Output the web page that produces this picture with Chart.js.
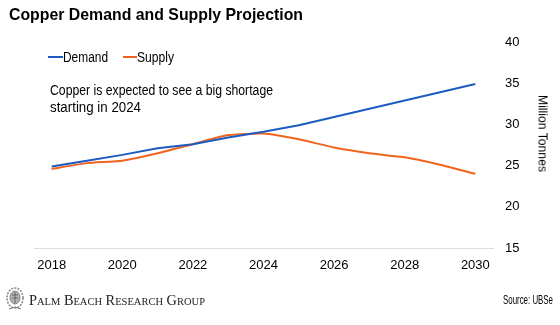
<!DOCTYPE html>
<html>
<head>
<meta charset="utf-8">
<script src="https://cdn.jsdelivr.net/npm/chart.js@4/dist/chart.umd.min.js"></script>
<style>
  html, body { margin: 0; padding: 0; background: #fff; }
  #wrap { position: relative; width: 560px; height: 325px; overflow: hidden; font-family: "Liberation Sans", Arial, sans-serif; color: #000; }
  #wrap canvas { position: absolute; left: 0; top: 0; }
  .txt { position: absolute; white-space: nowrap; line-height: 1; transform-origin: 0 0; }
  .key { position: absolute; height: 2px; }
</style>
</head>
<body>
<div id="wrap">
  <canvas id="copperChart" width="560" height="325"></canvas>

  <div class="txt fit" data-w="294" style="left:9px; top:5.7px; font-size:17px; font-weight:bold;">Copper Demand and Supply Projection</div>

  <!-- legend -->
  <div class="key" style="left:48px; top:55.7px; width:15px; background:#1c5bbf;"></div>
  <div class="txt fit" data-w="45" style="left:63px; top:49.9px; font-size:14px;">Demand</div>
  <div class="key" style="left:123px; top:55.7px; width:14px; background:#f0641e;"></div>
  <div class="txt fit" data-w="37" style="left:137px; top:49.9px; font-size:14px;">Supply</div>

  <!-- note -->
  <div class="txt fit" data-w="223" style="left:50px; top:83.2px; font-size:14px;">Copper is expected to see a big shortage</div>
  <div class="txt fit" data-w="91" style="left:50px; top:99.9px; font-size:14px;">starting in 2024</div>

  <!-- right axis title -->
  <div id="yTitle" class="txt" style="font-size:13px;">Million Tonnes</div>

  <!-- footer -->
  <svg style="position:absolute; left:5px; top:286px;" width="20" height="26" viewBox="0 0 20 26">
    <ellipse cx="10" cy="12" rx="8" ry="10" fill="none" stroke="#8a8a8a" stroke-width="1.6" stroke-dasharray="2 1.2"/>
    <ellipse cx="10" cy="11.5" rx="5" ry="6.5" fill="#b5b5b5" stroke="#6f6f6f" stroke-width="0.8"/>
    <path d="M7 9 h6 M7 12 h6 M10 6 v11" stroke="#555" stroke-width="0.8"/>
    <path d="M4 23 L10 21 L16 23" fill="none" stroke="#777" stroke-width="1"/>
  </svg>
  <div class="txt fit" data-w="176" style="left:29px; top:293px; font-size:15px; font-family:'Liberation Serif','DejaVu Serif',serif; font-variant:small-caps; color:#222;">Palm Beach Research Group</div>
  <div class="txt fit" data-w="50" style="left:503px; top:294px; font-size:12.5px;">Source: UBSe</div>
</div>

<script>
// chart data
const years = ["2018", "2019", "2020", "2021", "2022", "2023", "2024", "2025", "2026", "2027", "2028", "2029", "2030"];
const demand = [24.9, 25.6, 26.3, 27.1, 27.6, 28.4, 29.1, 29.9, 30.9, 31.9, 32.9, 33.9, 34.9];
const supply = [24.6, 25.3, 25.6, 26.5, 27.6, 28.7, 28.9, 28.2, 27.2, 26.5, 26.0, 25.1, 24.0];
const yTicks = [15, 20, 25, 30, 35, 40];

// squeeze html texts to the widths of the picture
document.querySelectorAll(".fit").forEach((el) => {
  const w = el.getBoundingClientRect().width;
  el.style.transform = "scaleX(" + (Number(el.dataset.w) / w) + ")";
});

// rotated axis title, centred at (543, 133)
const yt = document.getElementById("yTitle");
const ytw = yt.getBoundingClientRect().width;
const yth = yt.getBoundingClientRect().height;
yt.style.transformOrigin = "50% 50%";
yt.style.left = (543 - ytw / 2) + "px";
yt.style.top = (133 - yth / 2) + "px";
yt.style.transform = "rotate(90deg) scaleX(" + (77 / ytw) + ")";

const tickFont = { family: "'Liberation Sans', Arial, sans-serif", size: 13 };

const data = {
  labels: years,
  datasets: [
    {
      label: "Demand",
      data: demand,
      borderColor: "#1c5bbf",
      borderWidth: 2,
      pointRadius: 0,
      tension: 0,
      fill: false,
    },
    {
      label: "Supply",
      data: supply,
      borderColor: "#f0641e",
      borderWidth: 2,
      pointRadius: 0,
      tension: 0.15,
      fill: false,
    },
  ],
};

const config = {
  type: "line",
  data: data,
  options: {
    responsive: false,
    animation: false,
    layout: { padding: { left: 34, top: 42, right: 0, bottom: 42 } },
    plugins: {
      legend: { display: false },
      tooltip: { enabled: false },
    },
    scales: {
      x: {
        offset: true,
        grid: { display: false },
        border: { display: true, color: "#dcdcdc", width: 1 },
        ticks: {
          autoSkip: false,
          maxRotation: 0,
          padding: 2,
          color: "#000",
          font: tickFont,
          callback: function (value) {
            const y = this.getLabelForValue(value);
            return Number(y) % 2 === 0 ? y : "";
          },
        },
        afterFit: (s) => { s.height = 35; },
      },
      y: {
        position: "right",
        min: 15,
        max: 40,
        grid: { display: false },
        border: { display: false },
        afterBuildTicks: (s) => { s.ticks = yTicks.map((v) => ({ value: v })); },
        ticks: { padding: 4, color: "#000", font: tickFont },
        afterFit: (s) => { s.width = 67; },
      },
    },
  },
};

const ctx = document.getElementById("copperChart").getContext("2d");
new Chart(ctx, config);
</script>
</body>
</html>
